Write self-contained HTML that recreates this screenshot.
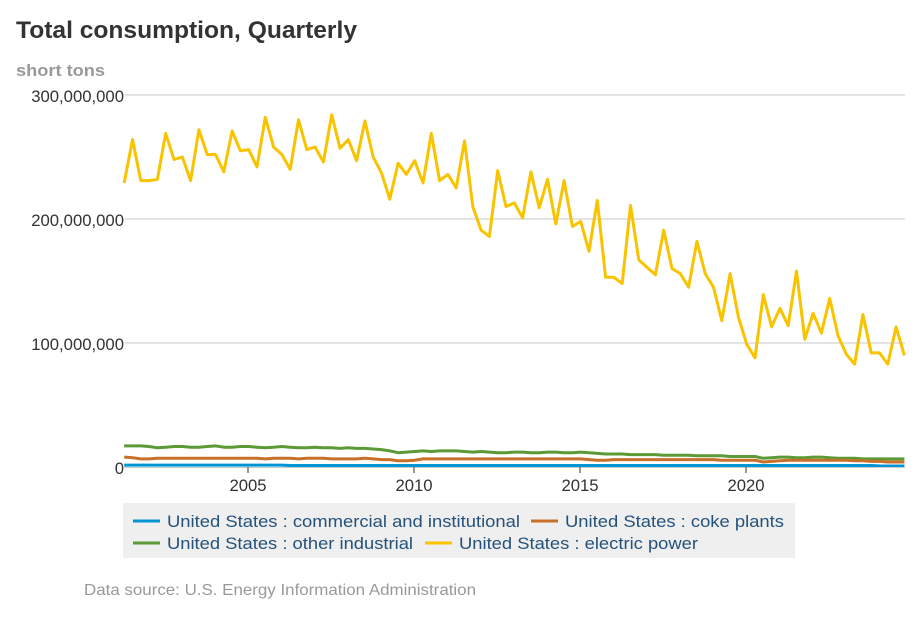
<!DOCTYPE html>
<html><head><meta charset="utf-8">
<style>
body{margin:0;background:#fff;font-family:"Liberation Sans",sans-serif;}
svg text{font-family:"Liberation Sans",sans-serif;}
</style></head>
<body>
<svg id="chart" width="920" height="613" xmlns="http://www.w3.org/2000/svg">
<text x="16" y="38" font-size="24" font-weight="bold" fill="#333" textLength="341" lengthAdjust="spacingAndGlyphs">Total consumption, Quarterly</text>
<text x="16" y="76" font-size="17" font-weight="bold" fill="#999" textLength="89" lengthAdjust="spacingAndGlyphs">short tons</text>
<g id="grid"></g>
<g id="series"></g>
<g id="xaxis"></g>
<g>
<rect x="123" y="503" width="672" height="55" fill="#efefef"/>
<g><line x1="133" y1="521" x2="160" y2="521" stroke="#0096d6" stroke-width="3"/><text x="167" y="527" font-size="17" fill="#24527a" textLength="353" lengthAdjust="spacingAndGlyphs">United States : commercial and institutional</text></g>
<g><line x1="531" y1="521" x2="558" y2="521" stroke="#c8702a" stroke-width="3"/><text x="565" y="527" font-size="17" fill="#24527a" textLength="219" lengthAdjust="spacingAndGlyphs">United States : coke plants</text></g>
<g><line x1="133" y1="543" x2="160" y2="543" stroke="#5c9a35" stroke-width="3"/><text x="167" y="549" font-size="17" fill="#24527a" textLength="246" lengthAdjust="spacingAndGlyphs">United States : other industrial</text></g>
<g><line x1="425" y1="543" x2="452" y2="543" stroke="#f9c300" stroke-width="3"/><text x="459" y="549" font-size="17" fill="#24527a" textLength="239" lengthAdjust="spacingAndGlyphs">United States : electric power</text></g>
</g>
<text x="84" y="595" font-size="16" fill="#999" textLength="392" lengthAdjust="spacingAndGlyphs">Data source: U.S. Energy Information Administration</text>
</svg>
<script>
const electric=[229,264,231,231,232,269,248,250,231,272,252,252,238,271,255,256,242,282,258,252,240,280,256,258,246,284,257,264,247,279,250,237,216,245,236,247,229,269,231,236,225,263,210,191,186,239,210,213,201,238,209,232,196,231,194,198,174,215,153,153,148,211,167,161,155,191,160,156,145,182,156,145,118,156,121,99,88,139,113,128,114,158,103,124,108,136,106,91,83,123,92,92,83,113,90];
const otherIndustrial=[17,17,17,16.5,15.5,16,16.5,16.5,16,16,16.5,17,16,16,16.5,16.5,16,15.5,16,16.5,16,15.5,15.5,16,15.5,15.5,15,15.5,15,15,14.5,14,13,11.5,12,12.5,13,12.5,13,13,13,12.5,12,12.5,12,11.5,11.5,12,12,11.5,11.5,12,12,11.5,11.5,12,11.5,11,10.5,10.5,10.5,10,10,10,10,9.5,9.5,9.5,9.5,9,9,9,9,8.5,8.5,8.5,8.5,7,7.5,8,8,7.5,7.5,8,8,7.5,7,7,7,6.5,6.5,6.5,6.5,6.5,6.5];
const cokePlants=[8,7.5,6.5,6.5,7,7,7,7,7,7,7,7,7,7,7,7,7,6.5,7,7,7,6.5,7,7,7,6.5,6.5,6.5,6.5,7,6.5,6,6,5,5,5.5,6.5,6.5,6.5,6.5,6.5,6.5,6.5,6.5,6.5,6.5,6.5,6.5,6.5,6.5,6.5,6.5,6.5,6.5,6.5,6.5,6,5.5,5.5,6,6,6,6,6,6,6,6,6,6,6,6,6,5.5,5.5,5.5,5.5,5.5,4,4.5,5,5.5,5.5,5.5,5.5,5.5,5.5,5.5,5.5,5,5,4.5,4.5,4,4,4];
const commercial=[1.5,1.5,1.5,1.5,1.5,1.5,1.5,1.5,1.5,1.5,1.5,1.5,1.5,1.5,1.5,1.5,1.5,1.5,1.5,1.5,1.2,1.2,1.2,1.2,1.2,1.2,1.2,1.2,1.2,1.2,1.2,1.2,1.2,1.2,1.2,1.2,1.2,1.2,1.2,1.2,1.2,1.2,1.2,1.2,1.2,1.2,1.2,1.2,1.2,1.2,1.2,1.2,1.2,1.2,1.2,1.2,1.2,1.2,1.2,1.2,1.2,1.2,1.2,1.2,1.2,1.2,1.2,1.2,1.2,1.2,1.2,1.2,1.2,1.2,1.2,1.2,1.2,1.2,1.2,1.2,1.2,1.2,1.2,1.2,1.2,1.2,1.2,1.2,1.2,1.2,1.2,0.9,0.8,0.8,0.8];
const yTicks=[0,100,200,300];
const yTickLabels=["0","100,000,000","200,000,000","300,000,000"];
const xTicks=[2005,2010,2015,2020];
const startYear=2001;

const NS="http://www.w3.org/2000/svg";
function xScale(t){return 248+(t-2005)*33.2;}
function yScale(v){return 467-v*1.24;}
function xIdx(i){return xScale(startYear+0.27+i*0.25);}
const grid=document.getElementById('grid');
yTicks.forEach((v,k)=>{
  const y=yScale(v);
  if(v>0){const l=document.createElementNS(NS,'line');
  l.setAttribute('x1',125);l.setAttribute('x2',905);l.setAttribute('y1',y);l.setAttribute('y2',y);
  l.setAttribute('stroke','#c8c8c8');l.setAttribute('stroke-width','1');
  
  
  grid.appendChild(l);}
  const t=document.createElementNS(NS,'text');
  t.setAttribute('x',124);t.setAttribute('y',y+7);t.setAttribute('text-anchor','end');
  t.setAttribute('font-size','16.7');t.setAttribute('fill','#333');t.textContent=yTickLabels[k];
  
  
  grid.appendChild(t);
});
const series=document.getElementById('series');
function drawLine(arr,color,name){
  const p=document.createElementNS(NS,'polyline');
  p.setAttribute('points',arr.map((v,i)=>xIdx(i).toFixed(1)+','+yScale(v).toFixed(1)).join(' '));
  p.setAttribute('fill','none');p.setAttribute('stroke',color);p.setAttribute('stroke-width','3');
  p.setAttribute('stroke-linejoin','round');
  
  
  series.appendChild(p);
}
drawLine(otherIndustrial,'#5c9a35','other-industrial-line');
drawLine(cokePlants,'#c8702a','coke-plants-line');
drawLine(commercial,'#0096d6','commercial-line');
drawLine(electric,'#f9c300','electric-power-line');
const xa=document.getElementById('xaxis');
const ax=document.createElementNS(NS,'line');
ax.setAttribute('x1',123);ax.setAttribute('x2',905);ax.setAttribute('y1',467.5);ax.setAttribute('y2',467.5);
ax.setAttribute('stroke','#ccc');


xa.appendChild(ax);
xTicks.forEach(yr=>{
  const x=xScale(yr);
  const l=document.createElementNS(NS,'line');
  l.setAttribute('x1',x);l.setAttribute('x2',x);l.setAttribute('y1',467);l.setAttribute('y2',473);
  l.setAttribute('stroke','#333');
  
  
  xa.appendChild(l);
  const t=document.createElementNS(NS,'text');
  t.setAttribute('x',x);t.setAttribute('y',491);t.setAttribute('text-anchor','middle');
  t.setAttribute('font-size','16.7');t.setAttribute('fill','#333');t.textContent=yr;
  
  
  xa.appendChild(t);
});
</script>
</body></html>
